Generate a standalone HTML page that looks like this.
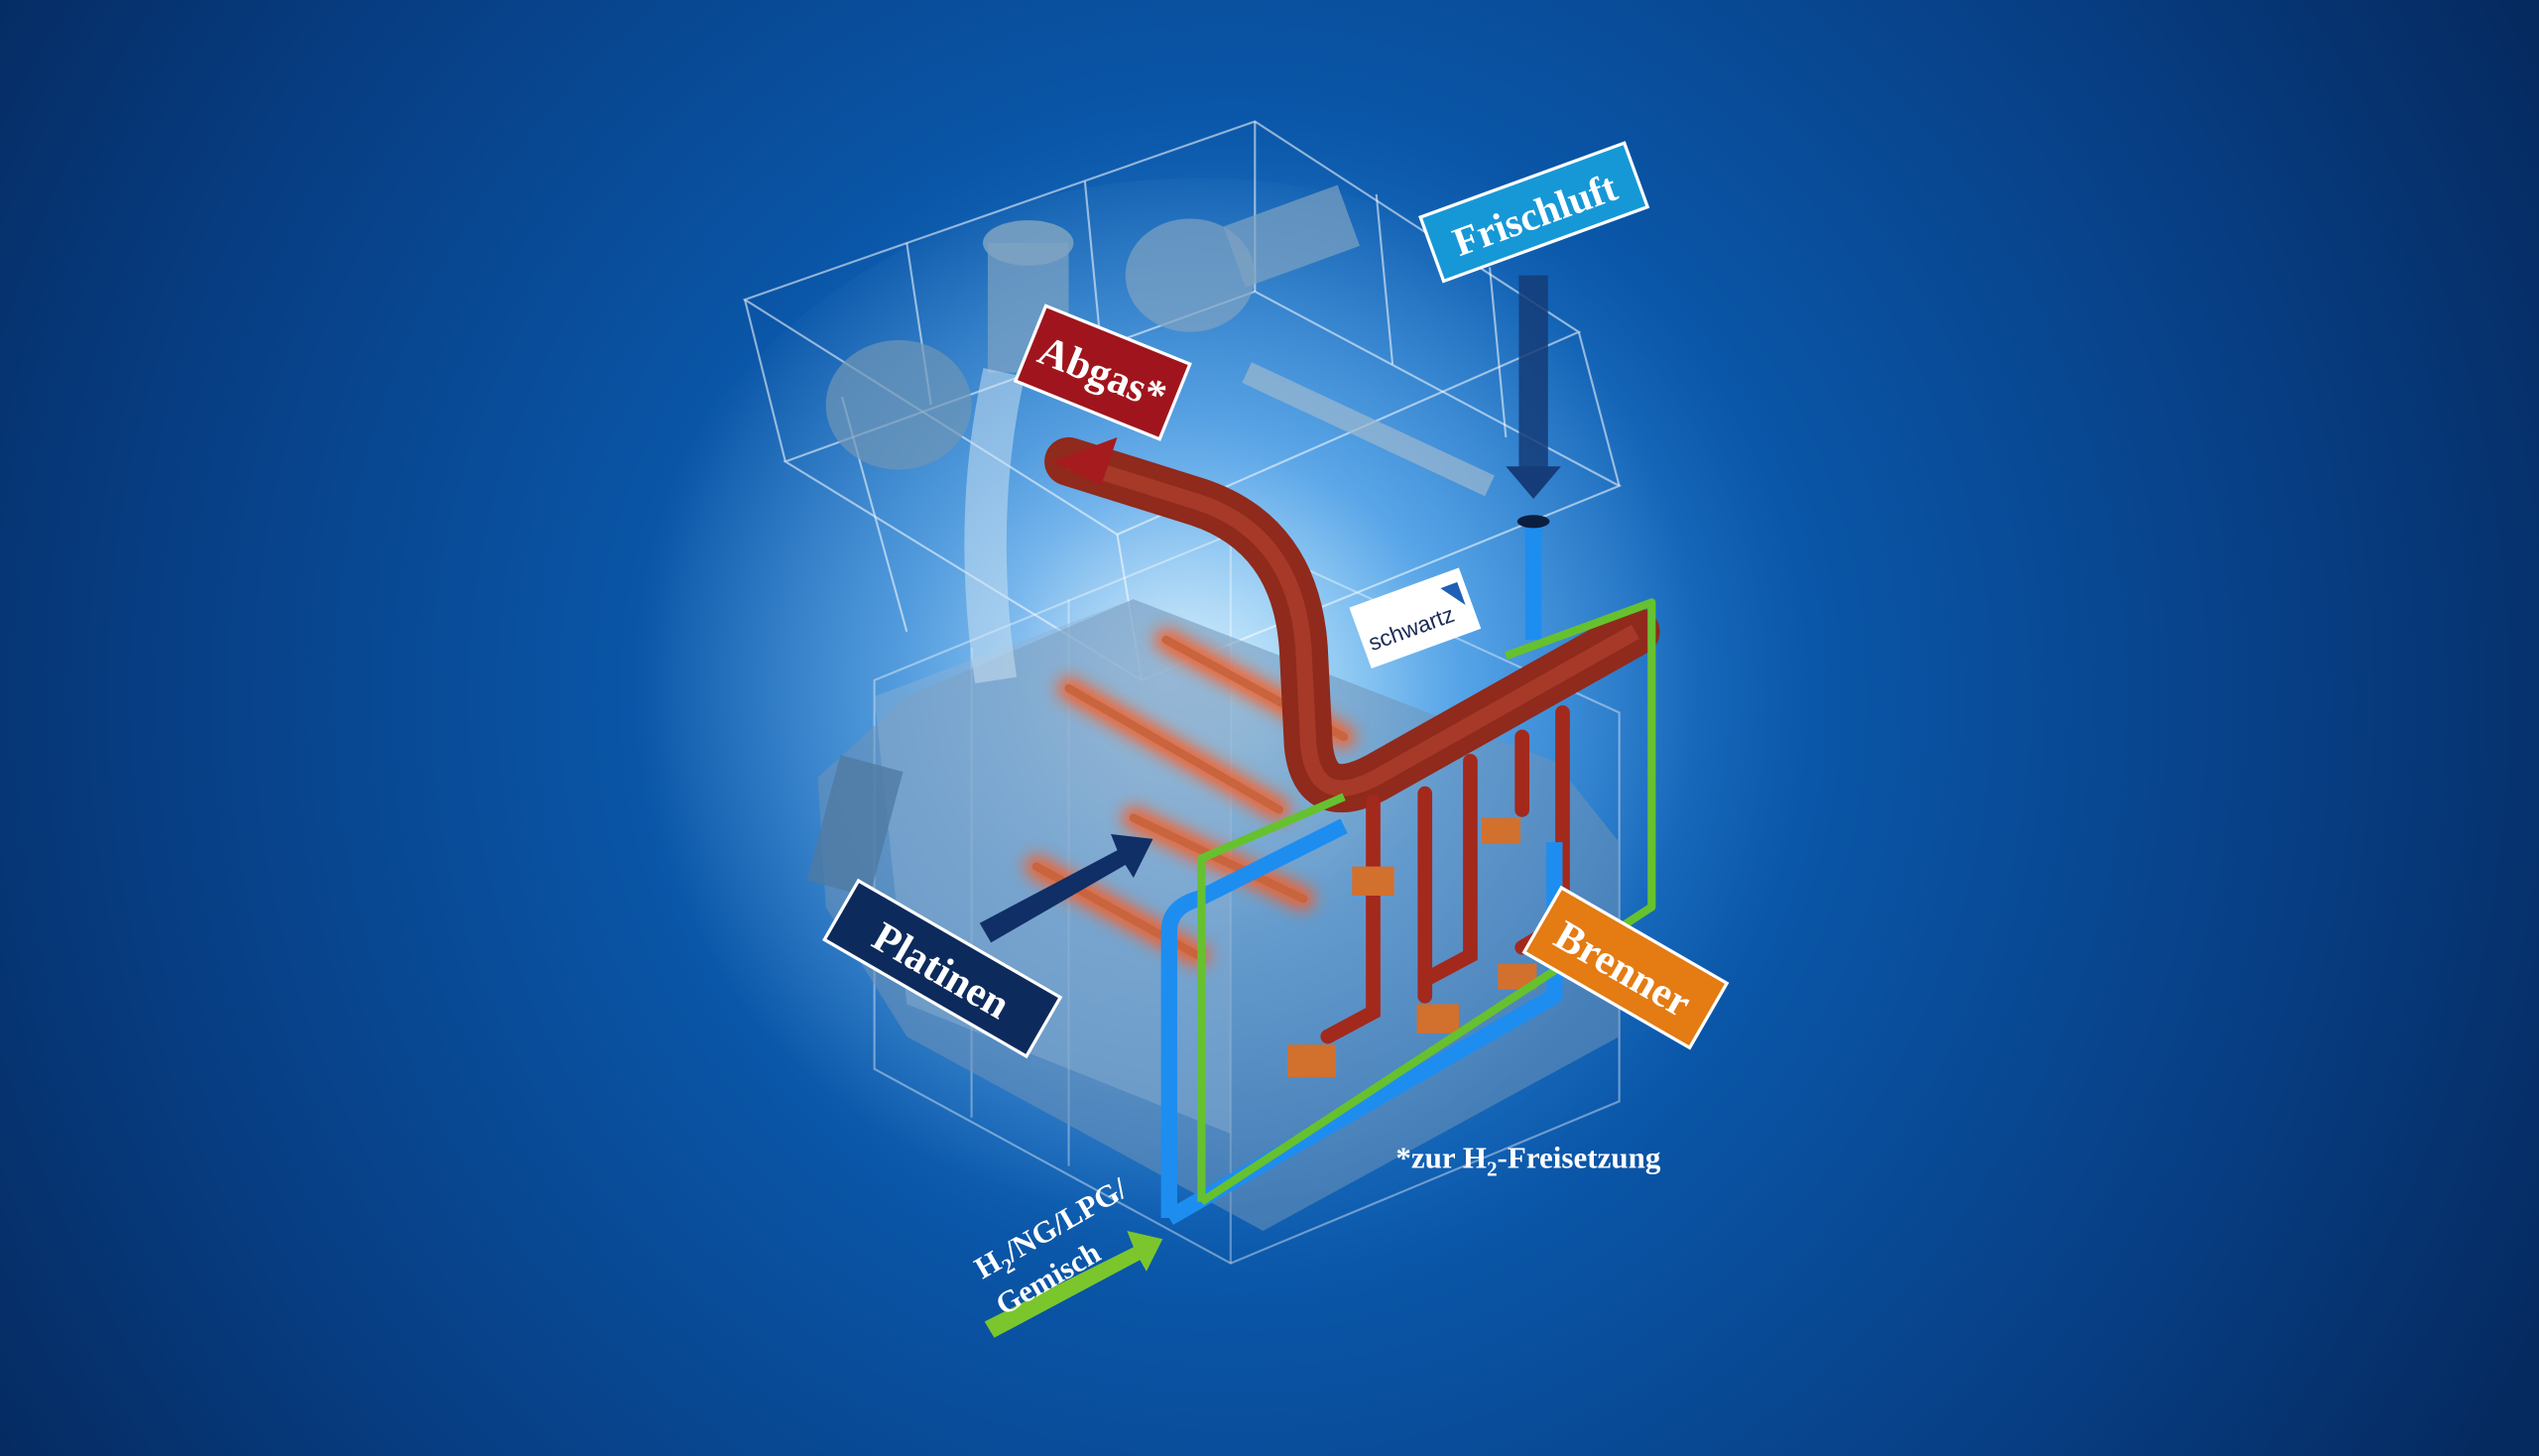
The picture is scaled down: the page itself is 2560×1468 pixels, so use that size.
<!DOCTYPE html>
<html><head><meta charset="utf-8">
<style>
html,body{margin:0;padding:0;width:2560px;height:1468px;overflow:hidden;background:#0a3a80;}
svg{display:block}
text{font-family:"Liberation Serif","DejaVu Serif",serif;font-weight:bold;}
</style></head>
<body>
<svg width="2560" height="1468" viewBox="0 0 1568 899" preserveAspectRatio="none" xmlns="http://www.w3.org/2000/svg">
<defs>
<radialGradient id="bg" cx="760" cy="430" r="900" gradientUnits="userSpaceOnUse">
<stop offset="0" stop-color="#8ad0f6"/>
<stop offset="0.16" stop-color="#2e8ade"/>
<stop offset="0.4" stop-color="#0a56a8"/>
<stop offset="0.75" stop-color="#073d82"/>
<stop offset="1" stop-color="#052a60"/>
</radialGradient>
<radialGradient id="glow" cx="720" cy="420" r="330" gradientUnits="userSpaceOnUse">
<stop offset="0" stop-color="#ffffff" stop-opacity="0.7"/>
<stop offset="0.5" stop-color="#bfe6ff" stop-opacity="0.3"/>
<stop offset="1" stop-color="#bfe6ff" stop-opacity="0"/>
</radialGradient>
<filter id="bl" x="-50%" y="-50%" width="200%" height="200%"><feGaussianBlur stdDeviation="5"/></filter>
</defs>
<rect width="1568" height="899" fill="url(#bg)"/>
<ellipse cx="740" cy="430" rx="360" ry="320" fill="url(#glow)"/>

<g stroke="#ffffff" stroke-opacity="0.55" fill="none" stroke-width="1.3">
<polygon points="460,185 775,75 975,205 690,330"/>
<polygon points="485,285 775,180 1000,300 705,420"/>
<line x1="460" y1="185" x2="485" y2="285"/><line x1="975" y1="205" x2="1000" y2="300"/>
<line x1="690" y1="330" x2="705" y2="420"/><line x1="775" y1="75" x2="775" y2="180"/>
<line x1="560" y1="150" x2="575" y2="250"/><line x1="670" y1="112" x2="680" y2="215"/>
<line x1="850" y1="120" x2="860" y2="225"/><line x1="920" y1="165" x2="930" y2="270"/>
<line x1="520" y1="245" x2="560" y2="390"/>
<polygon points="540,420 760,330 1000,440 1000,680 760,780 540,660" stroke-opacity="0.4"/>
<line x1="760" y1="330" x2="760" y2="780" stroke-opacity="0.35"/>
<line x1="600" y1="400" x2="600" y2="690" stroke-opacity="0.35"/>
<line x1="660" y1="370" x2="660" y2="720" stroke-opacity="0.35"/>
</g>

<polygon points="505,480 560,430 700,370 960,470 1000,520 1000,640 780,760 560,640 510,560" fill="#6f94b8" fill-opacity="0.55"/>
<polygon points="540,430 700,370 760,400 760,700 560,620" fill="#8fb2d2" fill-opacity="0.45"/>
<rect x="508" y="470" width="40" height="80" fill="#4f7aa3" fill-opacity="0.8" transform="rotate(15 528 510)"/>
<ellipse cx="635" cy="150" rx="28" ry="14" fill="#7fa3c2" opacity="0.85"/>
<rect x="610" y="150" width="50" height="80" fill="#7fa3c2" opacity="0.7"/>
<ellipse cx="555" cy="250" rx="45" ry="40" fill="#6f95b7" opacity="0.7"/>
<ellipse cx="735" cy="170" rx="40" ry="35" fill="#7fa3c2" opacity="0.7"/>
<rect x="760" y="125" width="75" height="40" fill="#7fa3c2" opacity="0.7" transform="rotate(-20 800 145)"/>
<path d="M620,230 Q600,320 615,420" stroke="#cfe3f2" stroke-opacity="0.5" stroke-width="26" fill="none"/>
<line x1="770" y1="230" x2="920" y2="300" stroke="#9db8cf" stroke-width="14" opacity="0.7"/>

<g stroke-linecap="round">
<g stroke="#ff5a1a" stroke-width="14" filter="url(#bl)" opacity="0.9">
<line x1="720" y1="395" x2="830" y2="455"/><line x1="660" y1="425" x2="790" y2="500"/>
<line x1="700" y1="505" x2="805" y2="555"/><line x1="640" y1="535" x2="740" y2="590"/>
</g>
<g stroke="#c8643e" stroke-width="5">
<line x1="720" y1="395" x2="830" y2="455"/><line x1="660" y1="425" x2="790" y2="500"/>
<line x1="700" y1="505" x2="805" y2="555"/><line x1="640" y1="535" x2="740" y2="590"/>
</g>
</g>

<line x1="947" y1="170" x2="947" y2="290" stroke="#153c78" stroke-width="18" opacity="0.85"/>
<polygon points="930,288 964,288 947,308" fill="#153c78"/>
<line x1="947" y1="320" x2="947" y2="395" stroke="#1e8df0" stroke-width="10"/>
<ellipse cx="947" cy="322" rx="10" ry="4" fill="#0a1e40"/>

<path d="M660,285 L740,310 Q800,330 805,400 L808,460 Q812,500 850,480 L1010,390" stroke="#8f2a1c" stroke-width="30" fill="none" stroke-linejoin="round" stroke-linecap="round"/>
<path d="M660,285 L740,310 Q800,330 805,400 L808,460 Q812,500 850,480 L1010,390" stroke="#b6452f" stroke-width="10" fill="none" opacity="0.6"/>
<polygon points="650,285 690,270 680,300" fill="#a61b1e"/>
<g stroke="#a3291c" stroke-width="9" fill="none" stroke-linecap="round">
<path d="M848,495 L848,625 L820,640"/><path d="M880,490 L880,615"/>
<path d="M908,470 L908,590 L880,605"/><path d="M940,455 L940,500"/>
<path d="M965,440 L965,570 L940,585"/>
</g>
<g fill="#d2702e">
<rect x="795" y="645" width="30" height="20"/><rect x="835" y="535" width="26" height="18"/>
<rect x="875" y="620" width="26" height="18"/><rect x="915" y="505" width="24" height="16"/>
<rect x="925" y="595" width="24" height="16"/>
</g>

<path d="M722,752 L722,575 Q722,560 740,555 L830,510 M722,752 L960,615 L960,520" stroke="#1e8df0" stroke-width="10" fill="none" stroke-linejoin="round"/>
<path d="M742,742 L742,530 L830,492 M742,742 L1020,560 L1020,372 L930,405" stroke="#66c12f" stroke-width="5" fill="none" stroke-linejoin="round"/>

<g transform="rotate(-20 873 382)">
<rect x="838" y="362" width="72" height="40" fill="#ffffff"/>
<text x="842" y="392" font-size="14" fill="#1b2b55" style="font-family:'Liberation Sans',sans-serif;font-weight:normal">schwartz</text>
<polygon points="895,370 906,370 906,385" fill="#1f5fb5"/>
</g>

<polygon points="605,570 690,525 686,515 712,518 700,542 695,534 612,582" fill="#102f66"/>
<polygon points="608,816 700,770 696,760 718,765 708,785 704,778 614,826" fill="#7bc62d"/>

<g transform="rotate(-20 947 130)">
<rect x="880" y="110" width="134" height="42" fill="#1698d7" stroke="#fff" stroke-width="2"/>
<text x="947" y="141" font-size="25" fill="#fff" text-anchor="middle">Frischluft</text>
</g>
<g transform="rotate(22 681 230)">
<rect x="633" y="205" width="96" height="50" fill="#a0151d" stroke="#fff" stroke-width="2"/>
<text x="681" y="239" font-size="26" fill="#fff" text-anchor="middle">Abgas*</text>
</g>
<g transform="rotate(30 582 598)">
<rect x="510" y="577" width="144" height="42" fill="#0d2a5c" stroke="#fff" stroke-width="2"/>
<text x="582" y="608" font-size="26" fill="#fff" text-anchor="middle">Platinen</text>
</g>
<g transform="rotate(30 1003 597)">
<rect x="945" y="574" width="118" height="46" fill="#e47b13" stroke="#fff" stroke-width="2"/>
<text x="1003" y="607" font-size="26" fill="#fff" text-anchor="middle">Brenner</text>
</g>
<text x="862" y="721" font-size="19" fill="#fff">*zur H<tspan font-size="13" dy="5">2</tspan><tspan dy="-5">-Freisetzung</tspan></text>
<g transform="rotate(-30 650 765)">
<text x="600" y="765" font-size="19" fill="#fff">H<tspan font-size="13" dy="5">2</tspan><tspan dy="-5">/NG/LPG/</tspan></text>
<text x="600" y="791" font-size="19" fill="#fff">Gemisch</text>
</g>
</svg>
</body></html>
